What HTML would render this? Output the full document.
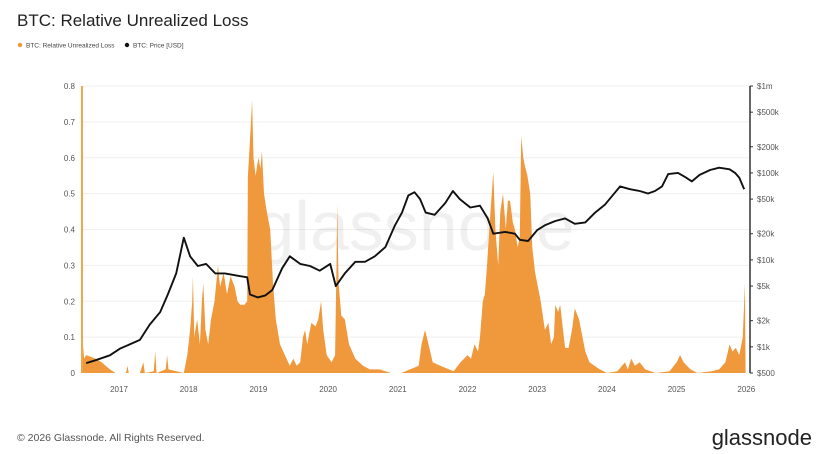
<!DOCTYPE html>
<html><head><meta charset="utf-8"><style>
body{margin:0;background:#fff;font-family:"Liberation Sans",sans-serif;}
#wrap{position:relative;width:830px;height:454px;overflow:hidden;background:#fff;}
</style></head><body>
<div id="wrap">
<svg id="chart" width="830" height="454"></svg>
</div>
<script>
const lossYears=[2016.47,2016.48,2016.5,2016.53,2016.6,2016.66,2016.75,2016.87,2016.95,2017.1,2017.12,2017.14,2017.3,2017.35,2017.37,2017.5,2017.52,2017.54,2017.67,2017.69,2017.71,2017.93,2017.98,2018.02,2018.05,2018.06,2018.08,2018.12,2018.16,2018.19,2018.21,2018.24,2018.28,2018.32,2018.37,2018.42,2018.45,2018.5,2018.55,2018.6,2018.66,2018.7,2018.74,2018.8,2018.84,2018.85,2018.88,2018.91,2018.93,2018.96,2019.0,2019.03,2019.05,2019.08,2019.12,2019.17,2019.21,2019.25,2019.31,2019.38,2019.45,2019.5,2019.55,2019.6,2019.64,2019.67,2019.7,2019.76,2019.82,2019.86,2019.9,2019.93,2019.98,2020.05,2020.1,2020.12,2020.13,2020.15,2020.19,2020.24,2020.3,2020.39,2020.5,2020.6,2020.74,2020.9,2021.05,2021.3,2021.34,2021.39,2021.44,2021.5,2021.61,2021.8,2021.9,2022.0,2022.05,2022.1,2022.15,2022.18,2022.22,2022.25,2022.28,2022.33,2022.37,2022.4,2022.44,2022.47,2022.51,2022.55,2022.58,2022.61,2022.65,2022.68,2022.72,2022.75,2022.77,2022.8,2022.82,2022.86,2022.9,2022.93,2022.97,2023.0,2023.05,2023.11,2023.16,2023.2,2023.24,2023.26,2023.3,2023.33,2023.37,2023.4,2023.45,2023.5,2023.54,2023.6,2023.65,2023.69,2023.75,2023.82,2023.9,2024.0,2024.15,2024.26,2024.3,2024.35,2024.4,2024.47,2024.55,2024.7,2024.9,2025.0,2025.05,2025.1,2025.2,2025.3,2025.5,2025.61,2025.7,2025.76,2025.8,2025.85,2025.9,2025.95,2025.98,2025.99];
const lossValues=[0,0.08,0.04,0.05,0.045,0.04,0.03,0.01,0,0,0.02,0,0,0.03,0,0.005,0.06,0,0.01,0.05,0.01,0,0.05,0.12,0.2,0.27,0.1,0.15,0.08,0.2,0.25,0.12,0.08,0.15,0.2,0.3,0.24,0.28,0.22,0.27,0.24,0.2,0.19,0.19,0.2,0.55,0.65,0.76,0.6,0.55,0.6,0.57,0.62,0.5,0.45,0.4,0.25,0.15,0.08,0.05,0.02,0.04,0.02,0.03,0.1,0.12,0.08,0.14,0.13,0.15,0.2,0.12,0.05,0.03,0.05,0.3,0.47,0.25,0.16,0.15,0.08,0.04,0.02,0.01,0.01,0,0,0.02,0.08,0.12,0.08,0.03,0.02,0.005,0.03,0.05,0.04,0.08,0.06,0.1,0.2,0.22,0.3,0.45,0.56,0.4,0.3,0.45,0.5,0.4,0.48,0.48,0.42,0.4,0.35,0.38,0.66,0.6,0.58,0.55,0.5,0.35,0.28,0.25,0.2,0.12,0.14,0.08,0.1,0.19,0.17,0.19,0.12,0.07,0.07,0.12,0.18,0.15,0.1,0.06,0.03,0.02,0.01,0,0.005,0.03,0.01,0.04,0.02,0.03,0.01,0,0.005,0.03,0.05,0.03,0.01,0,0.005,0.01,0.03,0.08,0.06,0.07,0.05,0.1,0.25,0];
const priceYears=[2016.53,2016.66,2016.87,2017.01,2017.3,2017.44,2017.59,2017.7,2017.82,2017.93,2018.02,2018.13,2018.25,2018.38,2018.52,2018.74,2018.84,2018.88,2018.99,2019.1,2019.2,2019.34,2019.45,2019.6,2019.74,2019.88,2020.03,2020.11,2020.24,2020.39,2020.53,2020.67,2020.82,2020.96,2021.06,2021.15,2021.24,2021.32,2021.4,2021.53,2021.68,2021.79,2021.89,2022.04,2022.18,2022.29,2022.37,2022.54,2022.68,2022.75,2022.87,2023.0,2023.11,2023.26,2023.4,2023.54,2023.69,2023.83,2023.97,2024.12,2024.19,2024.33,2024.47,2024.59,2024.69,2024.79,2024.88,2025.02,2025.12,2025.22,2025.33,2025.48,2025.61,2025.76,2025.84,2025.9,2025.97];
const priceValues=[650,700,800,950,1200,1800,2500,4000,7000,18000,11000,8500,9000,7000,7000,6500,6300,4000,3700,3900,4500,8000,11000,9000,8500,7500,9000,5000,7000,9500,9500,11000,14000,25000,35000,55000,60000,50000,35000,33000,45000,62000,50000,40000,42000,30000,20000,21000,20000,17000,16500,22000,25000,28000,30000,26000,27000,35000,43000,60000,70000,65000,62000,58000,62000,70000,97000,100000,90000,80000,95000,108000,115000,110000,100000,88000,65000];
const leftTicks=[0,0.1,0.2,0.3,0.4,0.5,0.6,0.7,0.8];
const rightTicks=[500,1000,2000,5000,10000,20000,50000,100000,200000,500000,1000000];
const rightLabels=["$500","$1k","$2k","$5k","$10k","$20k","$50k","$100k","$200k","$500k","$1m"];
const yearTicks=[2017,2018,2019,2020,2021,2022,2023,2024,2025,2026];

const NS="http://www.w3.org/2000/svg";
const svg=document.getElementById('chart');
const X0=82,X1=750,Y0=373,Y1=86;
const xs=yr=>119+(yr-2017)*69.7;
const yl=v=>Y0-(v/0.8)*(Y0-Y1);
const lmin=Math.log10(500),lmax=Math.log10(1e6);
const yr_=p=>Y0-(Math.log10(p)-lmin)/(lmax-lmin)*(Y0-Y1);
function el(tag,attrs,parent){const e=document.createElementNS(NS,tag);for(const k in attrs)e.setAttribute(k,attrs[k]);(parent||svg).appendChild(e);return e;}
function txt(s,attrs,name){const t=el('text',attrs);t.textContent=s;return t;}

txt('BTC: Relative Unrealized Loss',{x:17,y:26,'font-size':17,fill:'#222'},'chart-title');
const lg1=el('circle',{cx:20,cy:45,r:2.2,fill:'#f0993c'});

txt('BTC: Relative Unrealized Loss',{x:26,y:47.5,'font-size':6.5,fill:'#444'},'legend-entry-loss');
const lg2=el('circle',{cx:127,cy:45,r:2.2,fill:'#111'});

txt('BTC: Price [USD]',{x:133,y:47.5,'font-size':6.5,fill:'#444'},'legend-entry-price');

leftTicks.forEach(v=>{
  const y=yl(v);
  if(v>0){const g=el('line',{x1:X0,x2:X1,y1:y,y2:y,stroke:'#efefef','stroke-width':1});
  }
  txt(String(v),{x:75,y:y+3,'font-size':8,fill:'#555','text-anchor':'end'},'y-left-tick-label');
});
rightTicks.forEach((p,i)=>{
  const y=yr_(p);
  const t=el('line',{x1:X1,x2:X1+3,y1:y,y2:y,stroke:'#333','stroke-width':1});
  
  txt(rightLabels[i],{x:757,y:y+3,'font-size':8,fill:'#555'},'y-right-tick-label');
});
yearTicks.forEach(yv=>txt(String(yv),{x:xs(yv),y:392,'font-size':8,fill:'#555','text-anchor':'middle'},'x-tick-label'));

txt('glassnode',{x:415,y:250,'font-size':70,fill:'#000','fill-opacity':0.06,'text-anchor':'middle'},'watermark');

let d='M'+xs(lossYears[0])+','+Y0;
lossYears.forEach((yv,i)=>{d+=' L'+xs(yv).toFixed(1)+','+yl(lossValues[i]).toFixed(1);});
d+=' L'+xs(lossYears[lossYears.length-1])+','+Y0+' Z';
const area=el('path',{d:d,fill:'#f0993c'});


let pd='';
priceYears.forEach((yv,i)=>{pd+=(i?' L':'M')+xs(yv).toFixed(1)+','+yr_(priceValues[i]).toFixed(1);});
const pl=el('path',{d:pd,fill:'none',stroke:'#111','stroke-width':1.9,'stroke-linejoin':'round'});


const la=el('line',{x1:X0,x2:X0,y1:Y1,y2:Y0,stroke:'#f0a64a','stroke-width':2});

const ra=el('line',{x1:X1,x2:X1,y1:Y1,y2:Y0,stroke:'#333','stroke-width':1.5});


txt('© 2026 Glassnode. All Rights Reserved.',{x:17,y:441,'font-size':10.5,fill:'#555'},'copyright');
txt('glassnode',{x:812,y:445,'font-size':22,fill:'#222','text-anchor':'end'},'brand-logo');
</script>
</body></html>
